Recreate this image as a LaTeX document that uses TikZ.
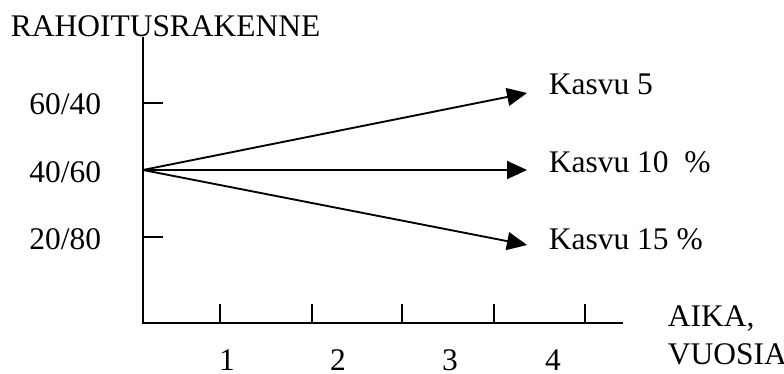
\documentclass[tikz,border=0pt]{standalone}
\usepackage{fontspec}
\setmainfont{Liberation Serif}
\usetikzlibrary{arrows.meta}
\begin{document}
\begin{tikzpicture}[x=.75pt,y=-.75pt,line width=1.4pt,
  every node/.style={font=\fontsize{23.6}{28}\selectfont,inner sep=0pt},
  growth/.style={-{Triangle[length=15pt,width=13.5pt]}}]
  \path[use as bounding box] (0,0) rectangle (784,374);
  \coordinate (O) at (143,170);
  \coordinate (top) at (143,37);
  \coordinate (corner) at (143,323);
  \coordinate (xend) at (623,323);
  \coordinate (t5) at (527,93);
  \coordinate (t10) at (527,170);
  \coordinate (t15) at (527,245);
  \draw (top)--(corner)--(xend);
  \draw (143,103)--(163,103) (143,237)--(163,237);
  \foreach \x in {220,312,402,494,585}
    \draw (\x,304)--(\x,323);
  \draw[growth] (O)--(t5);
  \draw[growth] (O)--(t10);
  \draw[growth] (O)--(t15);
  \node[anchor=base west] (yl) at (10,37) {RAHOITUSRAKENNE};
  \node[anchor=base east] (r1) at (102,115) {60/40};
  \node[anchor=base east] (r2) at (102,182) {40/60};
  \node[anchor=base east] (r3) at (102,249) {20/80};
  \node[anchor=base west] (k5) at (548,95) {Kasvu 5};
  \node[anchor=base west] (k10) at (548,172) {Kasvu 10~ \%};
  \node[anchor=base west] (k15) at (548,249) {Kasvu 15 \%};
  \node[anchor=base] (v1) at (227,370) {1};
  \node[anchor=base] (v2) at (338,370) {2};
  \node[anchor=base] (v3) at (450,370) {3};
  \node[anchor=base] (v4) at (553,370) {4};
  \node[anchor=base west] (xl1) at (667,326) {AIKA,};
  \node[anchor=base west] (xl2) at (667,364) {VUOSIA};
\end{tikzpicture}
\end{document}
